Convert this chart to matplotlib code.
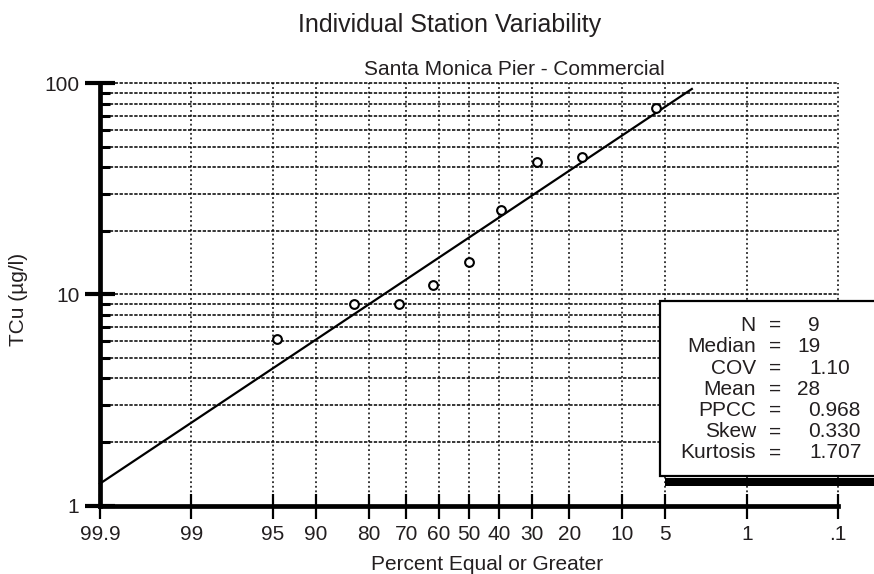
import math
import numpy as np
import matplotlib
matplotlib.use("Agg")
import matplotlib.pyplot as plt
from matplotlib.patches import Rectangle
from matplotlib.ticker import FixedLocator, NullLocator, NullFormatter, LogLocator

# ---------------- data ----------------
title = "Individual Station Variability"
subtitle = "Santa Monica Pier - Commercial"
x_label = "Percent Equal or Greater"
y_label = "TCu (\u00b5g/l)"

obs_pct = [94.6, 83.2, 72.0, 61.7, 50.0, 39.4, 28.5, 17.1, 5.9]
obs_tcu = [6.15, 9.0, 9.0, 11.1, 14.2, 25.0, 42.6, 45.0, 76.8]

fit_pct = [99.9, 3.1]
fit_tcu = [1.27, 94.0]

x_ticks = [99.9, 99, 95, 90, 80, 70, 60, 50, 40, 30, 20, 10, 5, 1, 0.1]
x_tick_labels = ["99.9", "99", "95", "90", "80", "70", "60", "50", "40",
                 "30", "20", "10", "5", "1", ".1"]
y_ticks = [1, 10, 100]
y_tick_labels = ["1", "10", "100"]

stat_names = ["N", "Median", "COV", "Mean", "PPCC", "Skew", "Kurtosis"]
stat_values = ["9", "19", "1.10", "28", "0.968", "0.330", "1.707"]

# ---------------- normal probability scale ----------------
_a = [-3.969683028665376e+01, 2.209460984245205e+02, -2.759285104469687e+02,
      1.383577518672690e+02, -3.066479806614716e+01, 2.506628277459239e+00]
_b = [-5.447609879822406e+01, 1.615858368580409e+02, -1.556989798598866e+02,
      6.680131188771972e+01, -1.328068155288572e+01]
_c = [-7.784894002430293e-03, -3.223964580411365e-01, -2.400758277161838e+00,
      -2.549732539343734e+00, 4.374664141464968e+00, 2.938163982698783e+00]
_d = [7.784695709041462e-03, 3.224671290700398e-01, 2.445134137142996e+00,
      3.754408661907416e+00]


def _ppf_scalar(p):
    plow = 0.02425
    if p < plow:
        q = math.sqrt(-2 * math.log(p))
        return ((((((_c[0]*q+_c[1])*q+_c[2])*q+_c[3])*q+_c[4])*q+_c[5]) /
                ((((_d[0]*q+_d[1])*q+_d[2])*q+_d[3])*q+1))
    if p > 1 - plow:
        q = math.sqrt(-2 * math.log(1 - p))
        return -((((((_c[0]*q+_c[1])*q+_c[2])*q+_c[3])*q+_c[4])*q+_c[5]) /
                 ((((_d[0]*q+_d[1])*q+_d[2])*q+_d[3])*q+1))
    q = p - 0.5
    r = q * q
    return ((((((_a[0]*r+_a[1])*r+_a[2])*r+_a[3])*r+_a[4])*r+_a[5])*q /
            (((((_b[0]*r+_b[1])*r+_b[2])*r+_b[3])*r+_b[4])*r+1))


_ppf_vec = np.vectorize(_ppf_scalar, otypes=[float])
_erf_vec = np.vectorize(math.erf, otypes=[float])


def forward(pct):
    p = np.clip(np.asarray(pct, dtype=float) / 100.0, 1e-12, 1 - 1e-12)
    return _ppf_vec(p)


def inverse(z):
    z = np.asarray(z, dtype=float)
    return 100.0 * 0.5 * (1.0 + _erf_vec(z / math.sqrt(2.0)))


# ---------------- figure ----------------
W, H = 874, 574
plt.rcParams['font.family'] = ['Liberation Sans', 'DejaVu Sans']
TXT = '#231f20'

fig = plt.figure(figsize=(W / 100, H / 100), dpi=100)
fig.patch.set_facecolor('white')


def fx(x):
    return x / W


def fy(y):
    return 1 - y / H


ax_left, ax_right, ax_top, ax_bottom = 100, 838, 83.3, 505.5
ax = fig.add_axes([fx(ax_left), fy(ax_bottom), (ax_right - ax_left) / W,
                   (ax_bottom - ax_top) / H])

ax.set_yscale('log')
ax.set_xscale('function', functions=(forward, inverse))
ax.set_xlim(99.9, 0.1)
ax.set_ylim(1, 100)

ax.xaxis.set_major_locator(FixedLocator(x_ticks))
ax.set_xticklabels(x_tick_labels)
ax.xaxis.set_minor_locator(NullLocator())
ax.yaxis.set_major_locator(FixedLocator(y_ticks))
ax.set_yticklabels(y_tick_labels)
ax.yaxis.set_minor_locator(LogLocator(base=10, subs=np.arange(2, 10)))
ax.yaxis.set_minor_formatter(NullFormatter())

# grid
ax.grid(True, which='major', axis='x', color='black', lw=1.1,
        linestyle=(0, (1.2, 1.8)))
ax.grid(True, which='both', axis='y', color='black', lw=1.1,
        linestyle=(0, (2.2, 1.0)))
ax.set_axisbelow(True)
for t in ax.xaxis.get_major_ticks() + ax.yaxis.get_major_ticks():
    t.gridline.set_clip_on(False)

for s in ('top', 'right'):
    ax.spines[s].set_visible(False)
for s in ('left', 'bottom'):
    ax.spines[s].set_linewidth(3.4)
    ax.spines[s].set_color('black')

ax.tick_params(axis='x', which='major', direction='inout', length=18,
               width=1.6, color='black', pad=5, labelsize=15, labelcolor=TXT)
ax.tick_params(axis='y', which='major', direction='inout', length=21.6,
               width=3.0, color='black', pad=4, labelsize=15, labelcolor=TXT)
ax.tick_params(axis='y', which='minor', direction='in', length=7.2,
               width=2.2, color='black')

# fitted line and observations
ax.plot(fit_pct, fit_tcu, color='black', lw=1.6, zorder=3, clip_on=False)
ax.plot(obs_pct, obs_tcu, linestyle='none', marker='o', markersize=6.3,
        markerfacecolor='white', markeredgecolor='black', markeredgewidth=1.5,
        zorder=4)

# titles & labels
fig.text(fx(450), fy(31.7), title, ha='center', va='baseline', fontsize=18,
         color=TXT)
fig.text(fx(514), fy(75), subtitle, ha='center', va='baseline', fontsize=15,
         color=TXT)
fig.text(fx(487), fy(570), x_label, ha='center', va='baseline', fontsize=15,
         color=TXT)
fig.text(fx(19), fy(299), y_label, ha='center', va='center', rotation=90,
         fontsize=15, color=TXT)

# stats box
box = Rectangle((fx(660), fy(476)), fx(900) - fx(660), (476 - 301) / H,
                transform=fig.transFigure, facecolor='white', edgecolor='black',
                lw=1.6, zorder=5, clip_on=False)
fig.add_artist(box)
shadow = Rectangle((fx(665), fy(485.5)), fx(900) - fx(665), (485.5 - 477.5) / H,
                   transform=fig.transFigure, facecolor='black',
                   edgecolor='none', zorder=5, clip_on=False)
fig.add_artist(shadow)

value_x = [808, 797, 809, 797, 808, 808, 809]
for i, (name, val) in enumerate(zip(stat_names, stat_values)):
    yb = 331 + i * 21.25
    fig.text(fx(756), fy(yb), name, ha='right', va='baseline', fontsize=15,
             color=TXT, zorder=6)
    fig.text(fx(775), fy(yb), "=", ha='center', va='baseline', fontsize=15,
             color=TXT, zorder=6)
    fig.text(fx(value_x[i]), fy(yb), val, ha='left', va='baseline',
             fontsize=15, color=TXT, zorder=6)

fig.savefig('out.png', dpi=100, facecolor='white')
